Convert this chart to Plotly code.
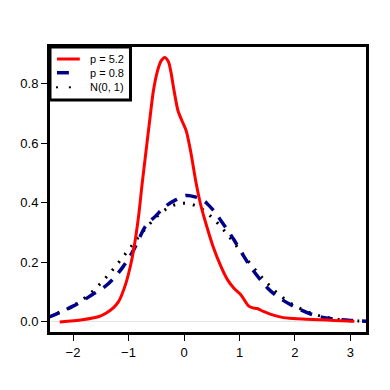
import plotly.graph_objects as go

# density curves
x_red = [-2.24, -1.83, -1.53, -1.4, -1.27, -1.18, -1.13, -1.045, -0.967, -0.908, -0.82,
         -0.754, -0.683, -0.612, -0.552, -0.48, -0.41, -0.345, -0.28, -0.238, -0.178, -0.107,
         -0.036, 0.04, 0.117, 0.22, 0.295, 0.38, 0.53, 0.657, 0.783, 0.9, 1.02, 1.1, 1.167,
         1.24, 1.317, 1.43, 1.553, 1.75, 1.97, 2.2, 2.44, 2.7, 3.07]
y_red = [0.0, 0.007, 0.018, 0.03, 0.048, 0.068, 0.087, 0.131, 0.187, 0.242, 0.353,
         0.465, 0.576, 0.687, 0.776, 0.842, 0.878, 0.889, 0.874, 0.842, 0.776, 0.709,
         0.676, 0.642, 0.576, 0.465, 0.398, 0.34, 0.25, 0.19, 0.142, 0.113, 0.092, 0.07, 0.053,
         0.047, 0.045, 0.035, 0.026, 0.016, 0.011, 0.009, 0.007, 0.005, 0.002]

x_blue = [-2.45, -2.2, -2.0, -1.82, -1.65, -1.45, -1.29, -1.1, -0.94, -0.82, -0.70, -0.5,
          -0.345, -0.15, 0.04, 0.2, 0.37, 0.43, 0.575, 0.66, 0.78, 0.90, 1.08, 1.2, 1.375,
          1.5, 1.67, 1.97, 2.32, 2.6, 2.8, 3.0, 3.3]
y_blue = [0.015, 0.035, 0.053, 0.072, 0.092, 0.115, 0.142, 0.185, 0.231, 0.275, 0.32, 0.358,
          0.387, 0.41, 0.425, 0.42, 0.405, 0.395, 0.365, 0.342, 0.31, 0.276, 0.22, 0.185, 0.142,
          0.115, 0.087, 0.053, 0.024, 0.012, 0.008, 0.005, 0.002]

x_norm = [-2.45, -2.25, -2.0, -1.75, -1.5, -1.25, -1.0, -0.75, -0.5, -0.25, 0.0, 0.25, 0.5,
          0.75, 1.0, 1.25, 1.5, 1.75, 2.0, 2.25, 2.5, 2.75, 3.0, 3.28]
y_norm = [0.020, 0.032, 0.054, 0.086, 0.130, 0.183, 0.242, 0.301, 0.352, 0.387, 0.399, 0.387,
          0.352, 0.301, 0.242, 0.183, 0.130, 0.086, 0.054, 0.032, 0.018, 0.009, 0.004, 0.002]

legend_labels = ['p = 5.2', 'p = 0.8', 'N(0, 1)']
x_ticks = [-2, -1, 0, 1, 2, 3]
y_ticks = [0.0, 0.2, 0.4, 0.6, 0.8]

FONT = 'Liberation Sans, Arial, sans-serif'

fig = go.Figure()
fig.add_trace(go.Scatter(x=x_norm, y=y_norm, mode='lines', line_shape='spline',
                         line=dict(color='black', width=3, dash='2px,8px')))
fig.add_trace(go.Scatter(x=x_blue, y=y_blue, mode='lines', line_shape='spline',
                         line=dict(color='#00008B', width=3.5, dash='12px,9px')))
fig.add_trace(go.Scatter(x=x_red, y=y_red, mode='lines', line_shape='spline',
                         line=dict(color='#FF0000', width=3, smoothing=0.8)))

# page body adds an 8px offset, so the figure is placed 8px up/left
OFF = 8
L, T, W, H = 48 - OFF, 47 - OFF, 318, 285


def px(x):
    return (x - OFF - L) / W


def py(y):
    return 1 - (y - OFF - T) / H


# hand-drawn legend in the top-left corner, R style
shapes = [
    dict(type='rect', xref='paper', yref='paper', x0=0, x1=px(129), y0=py(100), y1=1,
         line=dict(color='black', width=3), fillcolor='white', layer='above'),
    dict(type='line', xref='paper', yref='paper', x0=px(55), x1=px(78), y0=py(59), y1=py(59),
         line=dict(color='#FF0000', width=3), layer='above'),
    dict(type='line', xref='paper', yref='paper', x0=px(55), x1=px(67), y0=py(72.7), y1=py(72.7),
         line=dict(color='#00008B', width=3.5), layer='above'),
]
for dx in [55, 68]:
    shapes.append(dict(type='rect', xref='paper', yref='paper', x0=px(dx - 1), x1=px(dx + 1),
                       y0=py(88.3), y1=py(86.3), line=dict(width=0), fillcolor='black',
                       layer='above'))

annotations = []
for lab, yy in zip(legend_labels, [59, 72.7, 87.3]):
    annotations.append(dict(text=lab, xref='paper', yref='paper', x=px(86), y=py(yy),
                            xanchor='left', yanchor='middle', showarrow=False,
                            font=dict(family=FONT, size=11, color='black')))

fig.update_layout(
    width=390, height=390,
    margin=dict(l=L, r=390 - L - W, t=T, b=390 - T - H),
    plot_bgcolor='white', paper_bgcolor='white',
    showlegend=False,
    shapes=shapes, annotations=annotations,
    font=dict(family=FONT, size=13, color='black'),
)
fig.update_xaxes(range=[-2.415, 3.28], tickvals=x_ticks, ticks='outside', ticklen=6,
                 tickwidth=1, tickcolor='black', showline=True, linewidth=3, linecolor='black',
                 mirror=True, showgrid=False, zeroline=False)
fig.update_yaxes(range=[-0.034, 0.924], tickvals=y_ticks, tickformat='.1f', ticks='outside',
                 ticklen=6, tickwidth=1, tickcolor='black', showline=True, linewidth=3,
                 linecolor='black', mirror=True, showgrid=False, zeroline=True,
                 zerolinecolor='#e4e4e4', zerolinewidth=1)

fig.write_html("out.html")
